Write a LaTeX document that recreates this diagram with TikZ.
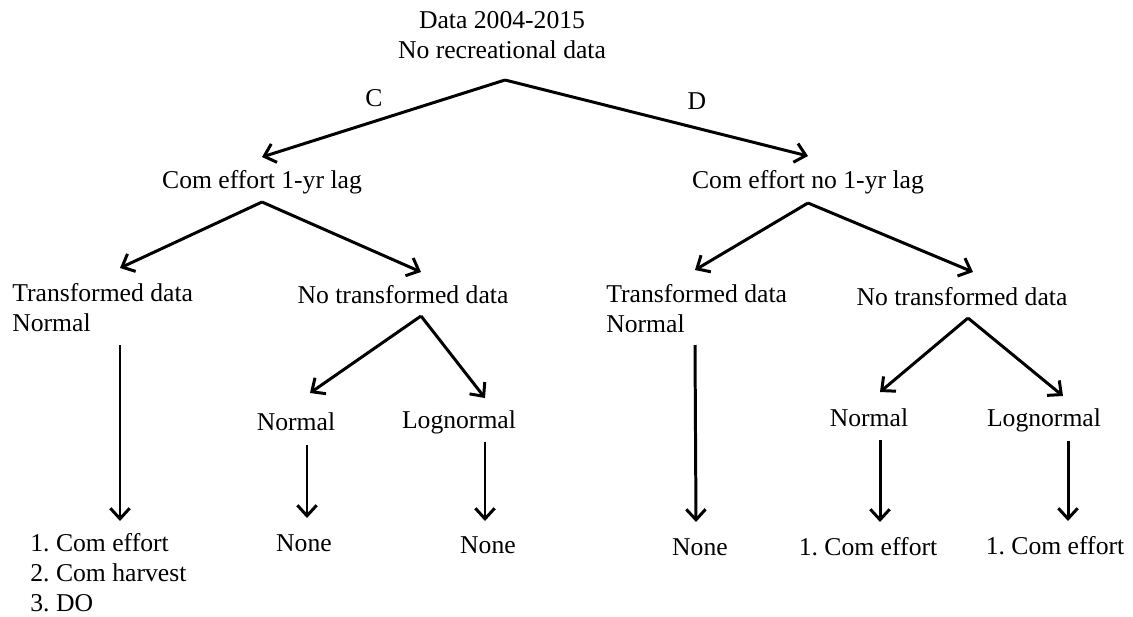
\documentclass[tikz,border=0pt]{standalone}
\usepackage{fontspec}
\setmainfont{Liberation Serif}
\usetikzlibrary{arrows.meta}
\begin{document}
\frenchspacing
\begin{tikzpicture}[x=0.02cm,y=-0.02cm,
  lbl/.style={inner sep=0pt,font=\fontsize{14.6}{17}\selectfont},
  lbll/.style={lbl,anchor=west,align=left},
  conn/.style={line width=1.7pt,line join=round,-{Straight Barb[length=6pt,width=11pt,line width=1.7pt]}}]
\useasboundingbox (0,0) rectangle (1133,616);
% texts
\node[lbl,align=center] (top) at (502,35) {Data 2004-2015\\No recreational data};
\node[lbl] (C) at (374,98) {C};
\node[lbl] (D) at (697,101) {D};
\node[lbl] (L1) at (262,182) {Com effort 1-yr lag};
\node[lbl] (R1) at (808,182) {Com effort no 1-yr lag};
\node[lbll] (LT) at (12,308) {Transformed data\\Normal};
\node[lbl] (LN) at (403,295) {No transformed data};
\node[lbll] (RT) at (606,309) {Transformed data\\Normal};
\node[lbl] (RN) at (962,297) {No transformed data};
\node[lbl] (LNn) at (296,422) {Normal};
\node[lbl] (LNl) at (459,422) {Lognormal};
\node[lbl] (RNn) at (869,418) {Normal};
\node[lbl] (RNl) at (1044,420) {Lognormal};
\node[lbll] (LTo) at (30,573) {1. Com effort\\2. Com harvest\\3. DO};
\node[lbl] (LNno) at (304,543) {None};
\node[lbl] (LNlo) at (488,545) {None};
\node[lbl] (RTo) at (700,547) {None};
\node[lbl] (RNno) at (868,547) {1. Com effort};
\node[lbl] (RNlo) at (1055,546) {1. Com effort};
% connector points
\coordinate (a0) at (505,80);
\coordinate (t1) at (262,157);
\coordinate (t2) at (808,156);
\coordinate (a1) at (262,202);
\coordinate (t11) at (120,268);
\coordinate (t12) at (421,272);
\coordinate (a2) at (808,203);
\coordinate (t21) at (695,270);
\coordinate (t22) at (973,272);
\coordinate (a12) at (421,316);
\coordinate (t121) at (310,393);
\coordinate (t122) at (485,398);
\coordinate (a22) at (968,318);
\coordinate (t221) at (880,392);
\coordinate (t222) at (1063,396);
\coordinate (s11) at (120,345);
\coordinate (e11) at (120,521);
\coordinate (s121) at (307,445);
\coordinate (e121) at (307,518);
\coordinate (s122) at (485,442);
\coordinate (e122) at (485,521);
\coordinate (s21) at (695,345);
\coordinate (e21) at (696,522);
\coordinate (s221) at (880,440);
\coordinate (e221) at (880,522);
\coordinate (s222) at (1068,441);
\coordinate (e222) at (1068,521);
% connectors
\draw[conn] (a0) -- (t1);
\draw[conn] (a0) -- (t2);
\draw[conn] (a1) -- (t11);
\draw[conn] (a1) -- (t12);
\draw[conn] (a2) -- (t21);
\draw[conn] (a2) -- (t22);
\draw[conn] (a12) -- (t121);
\draw[conn] (a12) -- (t122);
\draw[conn] (a22) -- (t221);
\draw[conn] (a22) -- (t222);
\draw[conn] (s11) -- (e11);
\draw[conn] (s121) -- (e121);
\draw[conn] (s122) -- (e122);
\draw[conn] (s21) -- (e21);
\draw[conn] (s221) -- (e221);
\draw[conn] (s222) -- (e222);
\end{tikzpicture}
\end{document}
